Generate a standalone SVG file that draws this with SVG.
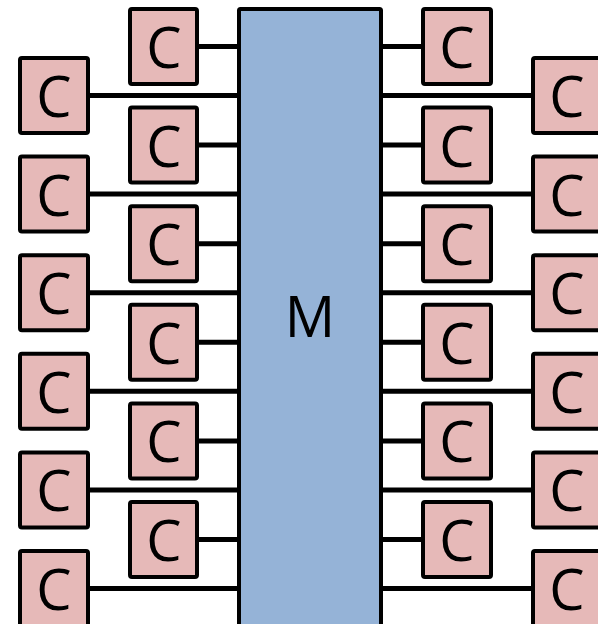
<svg xmlns="http://www.w3.org/2000/svg" width="598" height="624" viewBox="0 0 598 624">
  <style>
    .link { stroke: #000; stroke-width: 5; fill: none; }
    .core rect { fill: #E6B9B8; stroke: #000; stroke-width: 4; }
    .mem rect { fill: #95B3D7; stroke: #000; stroke-width: 4; }
    text { font-family: "Open Sans", "Liberation Sans", sans-serif; font-size: 56px; fill: #000; text-anchor: middle; }
  </style>
  <rect width="598" height="624" fill="#fff"/>

  <!-- connectors: each core is wired to the memory block -->
  <g id="connectors">
    <!-- left inner column -->
    <line class="link" x1="197" y1="46.5" x2="240" y2="46.5"/>
    <line class="link" x1="197" y1="145.1" x2="240" y2="145.1"/>
    <line class="link" x1="197" y1="243.7" x2="240" y2="243.7"/>
    <line class="link" x1="197" y1="342.3" x2="240" y2="342.3"/>
    <line class="link" x1="197" y1="440.9" x2="240" y2="440.9"/>
    <line class="link" x1="197" y1="539.5" x2="240" y2="539.5"/>
    <!-- left outer column -->
    <line class="link" x1="88" y1="95.5" x2="240" y2="95.5"/>
    <line class="link" x1="88" y1="194.1" x2="240" y2="194.1"/>
    <line class="link" x1="88" y1="292.7" x2="240" y2="292.7"/>
    <line class="link" x1="88" y1="391.3" x2="240" y2="391.3"/>
    <line class="link" x1="88" y1="489.9" x2="240" y2="489.9"/>
    <line class="link" x1="88" y1="588.5" x2="240" y2="588.5"/>
    <!-- right inner column -->
    <line class="link" x1="380" y1="46.5" x2="423" y2="46.5"/>
    <line class="link" x1="380" y1="145.1" x2="423" y2="145.1"/>
    <line class="link" x1="380" y1="243.7" x2="423" y2="243.7"/>
    <line class="link" x1="380" y1="342.3" x2="423" y2="342.3"/>
    <line class="link" x1="380" y1="440.9" x2="423" y2="440.9"/>
    <line class="link" x1="380" y1="539.5" x2="423" y2="539.5"/>
    <!-- right outer column -->
    <line class="link" x1="380" y1="95.5" x2="533" y2="95.5"/>
    <line class="link" x1="380" y1="194.1" x2="533" y2="194.1"/>
    <line class="link" x1="380" y1="292.7" x2="533" y2="292.7"/>
    <line class="link" x1="380" y1="391.3" x2="533" y2="391.3"/>
    <line class="link" x1="380" y1="489.9" x2="533" y2="489.9"/>
    <line class="link" x1="380" y1="588.5" x2="533" y2="588.5"/>
  </g>

  <!-- shared memory -->
  <g id="memory" class="mem">
    <rect x="239" y="9" width="142" height="630" rx="1.5"/>
    <text x="310" y="337">M</text>
  </g>

  <!-- left inner cores -->
  <g id="core-li-1" class="core"><rect x="130" y="9" width="67" height="75" rx="2"/><text x="164" y="68">C</text></g>
  <g id="core-li-2" class="core"><rect x="130" y="107.6" width="67" height="75" rx="2"/><text x="164" y="166.6">C</text></g>
  <g id="core-li-3" class="core"><rect x="130" y="206.2" width="67" height="75" rx="2"/><text x="164" y="265.2">C</text></g>
  <g id="core-li-4" class="core"><rect x="130" y="304.8" width="67" height="75" rx="2"/><text x="164" y="363.8">C</text></g>
  <g id="core-li-5" class="core"><rect x="130" y="403.4" width="67" height="75" rx="2"/><text x="164" y="462.4">C</text></g>
  <g id="core-li-6" class="core"><rect x="130" y="502" width="67" height="75" rx="2"/><text x="164" y="561">C</text></g>

  <!-- left outer cores -->
  <g id="core-lo-1" class="core"><rect x="20" y="58" width="68" height="75" rx="2"/><text x="54" y="117">C</text></g>
  <g id="core-lo-2" class="core"><rect x="20" y="156.6" width="68" height="75" rx="2"/><text x="54" y="215.6">C</text></g>
  <g id="core-lo-3" class="core"><rect x="20" y="255.2" width="68" height="75" rx="2"/><text x="54" y="314.2">C</text></g>
  <g id="core-lo-4" class="core"><rect x="20" y="353.8" width="68" height="75" rx="2"/><text x="54" y="412.8">C</text></g>
  <g id="core-lo-5" class="core"><rect x="20" y="452.4" width="68" height="75" rx="2"/><text x="54" y="511.4">C</text></g>
  <g id="core-lo-6" class="core"><rect x="20" y="551" width="68" height="75" rx="2"/><text x="54" y="610">C</text></g>

  <!-- right inner cores -->
  <g id="core-ri-1" class="core"><rect x="423" y="9" width="68" height="75" rx="2"/><text x="457" y="68">C</text></g>
  <g id="core-ri-2" class="core"><rect x="423" y="107.6" width="68" height="75" rx="2"/><text x="457" y="166.6">C</text></g>
  <g id="core-ri-3" class="core"><rect x="423" y="206.2" width="68" height="75" rx="2"/><text x="457" y="265.2">C</text></g>
  <g id="core-ri-4" class="core"><rect x="423" y="304.8" width="68" height="75" rx="2"/><text x="457" y="363.8">C</text></g>
  <g id="core-ri-5" class="core"><rect x="423" y="403.4" width="68" height="75" rx="2"/><text x="457" y="462.4">C</text></g>
  <g id="core-ri-6" class="core"><rect x="423" y="502" width="68" height="75" rx="2"/><text x="457" y="561">C</text></g>

  <!-- right outer cores -->
  <g id="core-ro-1" class="core"><rect x="533" y="58" width="68" height="75" rx="2"/><text x="567" y="117">C</text></g>
  <g id="core-ro-2" class="core"><rect x="533" y="156.6" width="68" height="75" rx="2"/><text x="567" y="215.6">C</text></g>
  <g id="core-ro-3" class="core"><rect x="533" y="255.2" width="68" height="75" rx="2"/><text x="567" y="314.2">C</text></g>
  <g id="core-ro-4" class="core"><rect x="533" y="353.8" width="68" height="75" rx="2"/><text x="567" y="412.8">C</text></g>
  <g id="core-ro-5" class="core"><rect x="533" y="452.4" width="68" height="75" rx="2"/><text x="567" y="511.4">C</text></g>
  <g id="core-ro-6" class="core"><rect x="533" y="551" width="68" height="75" rx="2"/><text x="567" y="610">C</text></g>
</svg>
